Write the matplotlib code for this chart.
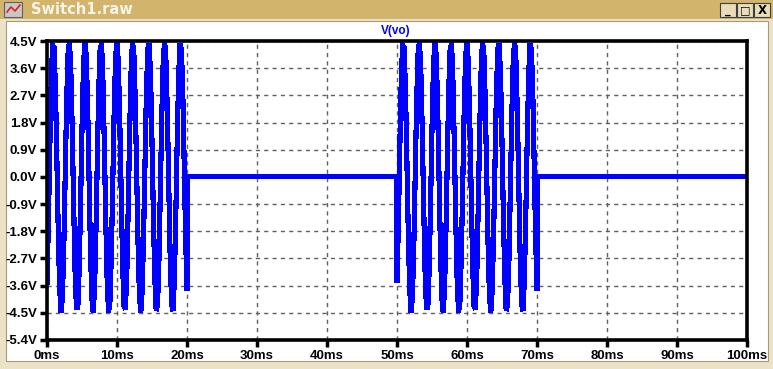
import matplotlib
matplotlib.use("Agg")
import matplotlib.pyplot as plt
from matplotlib.patches import Rectangle

# one burst of V(vo), times in ms from the start of the burst
burst_t = [0.0, 0.2, 0.4, 0.6, 0.8, 1.0, 1.2, 1.4, 1.6, 1.8,
           2.0, 2.2, 2.4, 2.6, 2.8, 3.0, 3.2, 3.4, 3.6, 3.8,
           4.0, 4.2, 4.4, 4.6, 4.8, 5.0, 5.2, 5.4, 5.6, 5.8,
           6.0, 6.2, 6.4, 6.6, 6.8, 7.0, 7.2, 7.4, 7.6, 7.8,
           8.0, 8.2, 8.4, 8.6, 8.8, 9.0, 9.2, 9.4, 9.6, 9.8,
           10.0, 10.2, 10.4, 10.6, 10.8, 11.0, 11.2, 11.4, 11.6, 11.8,
           12.0, 12.2, 12.4, 12.6, 12.8, 13.0, 13.2, 13.4, 13.6, 13.8,
           14.0, 14.2, 14.4, 14.6, 14.8, 15.0, 15.2, 15.4, 15.6, 15.8,
           16.0, 16.2, 16.4, 16.6, 16.8, 17.0, 17.2, 17.4, 17.6, 17.8,
           18.0, 18.2, 18.4, 18.6, 18.8, 19.0, 19.2, 19.4, 19.6, 19.8,
           20.0]
burst_v = [-3.50, -1.49, 0.96, 3.13, 4.36, 4.29, 2.95, 0.72, -1.72, -3.65,
           -4.49, -3.99, -2.31, 0.07, 2.42, 4.05, 4.48, 3.57, 1.59, -0.85,
           -3.05, -4.33, -4.33, -3.03, -0.83, 1.61, 3.58, 4.48, 4.04, 2.40,
           0.05, -2.32, -4.00, -4.49, -3.64, -1.70, 0.74, 2.96, 4.30, 4.36,
           3.11, 0.94, -1.51, -3.51, -4.47, -4.09, -2.50, -0.16, 2.23, 3.95,
           4.49, 3.70, 1.80, -0.63, -2.88, -4.27, -4.38, -3.20, -1.06, 1.40,
           3.44, 4.45, 4.14, 2.59, 0.27, -2.13, -3.89, -4.50, -3.76, -1.91,
           0.52, 2.79, 4.23, 4.41, 3.27, 1.16, -1.29, -3.36, -4.43, -4.18,
           -2.68, -0.39, 2.03, 3.83, 4.50, 3.82, 2.01, -0.40, -2.70, -4.19,
           -4.43, -3.35, -1.27, 1.18, 3.29, 4.41, 4.22, 2.77, 0.50, -1.93,
           -3.77]
burst_starts = [0.0, 50.0]   # ms, switch closed
burst_ends = [20.0, 70.0]    # ms, switch open
stop_time = 100.0

y_ticks = [4.5, 3.6, 2.7, 1.8, 0.9, 0.0, -0.9, -1.8, -2.7, -3.6, -4.5, -5.4]
y_labels = ["4.5V", "3.6V", "2.7V", "1.8V", "0.9V", "0.0V", "-0.9V", "-1.8V",
            "-2.7V", "-3.6V", "-4.5V", "-5.4V"]
x_ticks = [0, 10, 20, 30, 40, 50, 60, 70, 80, 90, 100]
x_labels = ["0ms", "10ms", "20ms", "30ms", "40ms", "50ms", "60ms", "70ms",
            "80ms", "90ms", "100ms"]

# build the whole trace: bursts with flat 0V in between
t, v = [], []
prev_end = 0.0
for s, e in zip(burst_starts, burst_ends):
    if s > prev_end:
        t += [prev_end, s]
        v += [0.0, 0.0]
    t += [s + x for x in burst_t]
    v += burst_v
    t.append(e)
    v.append(0.0)
    prev_end = e
t.append(stop_time)
v.append(0.0)

W, H = 773, 369
fig = plt.figure(figsize=(W / 100, H / 100), dpi=100)
fig.patch.set_facecolor("white")

def px_rect(x, y, w, h, **kw):
    # rectangle in pixel coords, y measured from the top
    fig.patches.append(Rectangle((x / W, 1 - (y + h) / H), w / W, h / H,
                                 transform=fig.transFigure, figure=fig,
                                 zorder=-5, **kw))

# window chrome
px_rect(0, 0, W, H, facecolor="#ECE2C6", edgecolor="none")
px_rect(0, 0, W, 19, facecolor="#D3B46C", edgecolor="none")
px_rect(6, 21, 762, 340, facecolor="white", edgecolor="#A89A78", linewidth=0.8)
# icon
px_rect(4, 2, 18, 15, facecolor="#C8C8C8", edgecolor="#606060", linewidth=0.8)
fig.lines.append(plt.Line2D([7 / W, 11 / W, 15 / W, 20 / W],
                            [1 - 12 / H, 1 - 7 / H, 1 - 11 / H, 1 - 5 / H],
                            transform=fig.transFigure, color="#E02020", linewidth=1.2))
fig.text(31 / W, 1 - 10 / H, "Switch1.raw", color="#F8F4E8", fontsize=10.5,
         fontweight="bold", family="DejaVu Sans", va="center", ha="left")
# min / max / close buttons
for bx, sym in [(720, "_"), (737, "□"), (754, "X")]:
    px_rect(bx, 3, 16, 14, facecolor="#E8DDB8", edgecolor="#404040", linewidth=0.8)
    fig.text((bx + 8) / W, 1 - 10.5 / H, sym, fontsize=8 if sym != "X" else 8.5,
             fontweight="bold", ha="center", va="center", color="black",
             family="DejaVu Sans")

# plot area in pixels: left 47, right 747, top 41, bottom 340
ax = fig.add_axes([47 / W, 1 - 340 / H, 700 / W, 299 / H])
ax.set_zorder(5)
ax.set_facecolor("white")
ax.plot(t, v, color="#0000FF", linewidth=3.0, solid_joinstyle="miter",
        antialiased=False)
ax.set_xlim(0, 100)
ax.set_ylim(-5.4, 4.5)
ax.set_xticks(x_ticks)
ax.set_xticklabels(x_labels)
ax.set_yticks(y_ticks)
ax.set_yticklabels(y_labels)
for lab in ax.get_xticklabels() + ax.get_yticklabels():
    lab.set_fontfamily("Liberation Sans")
    lab.set_fontweight("bold")
    lab.set_fontsize(9.5)
ax.tick_params(direction="out", length=5, width=2.5, color="black", pad=2)
ax.grid(True, color="#606060", linestyle=(0, (3, 3)), linewidth=1.0)
for sp in ax.spines.values():
    sp.set_linewidth(2.6)
    sp.set_color("black")
fig.text(396 / W, 1 - 31 / H, "V(vo)", color="#0000FF", fontsize=8.5,
         fontweight="bold", family="Liberation Sans", ha="center", va="center")

fig.savefig("out.png", dpi=100)
